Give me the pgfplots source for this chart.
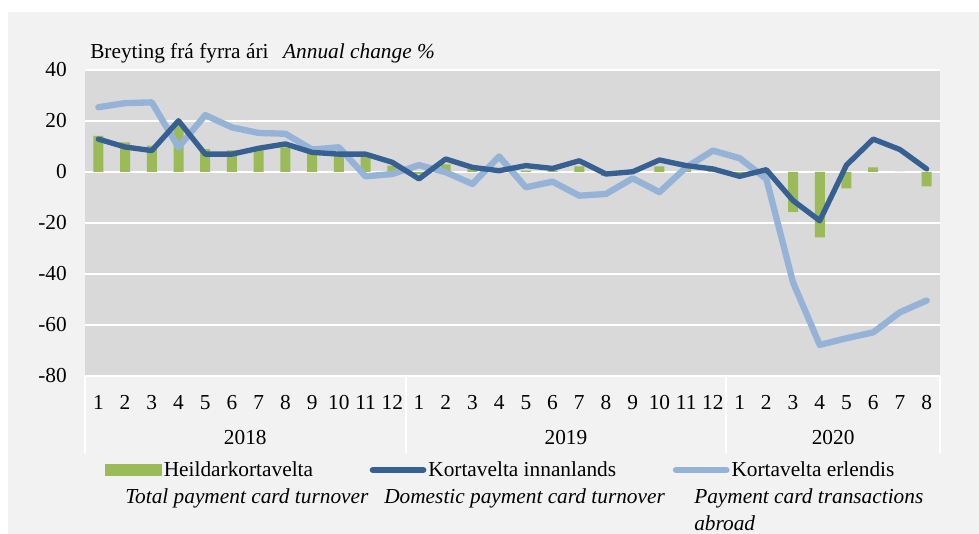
\documentclass[border=0pt]{standalone}
\usepackage{fontspec}
\setmainfont{Liberation Serif}
\usepackage{pgfplots}
\pgfplotsset{compat=1.18}
\definecolor{bgout}{HTML}{F2F2F2}
\definecolor{bgplot}{HTML}{D9D9D9}
\definecolor{barcol}{HTML}{9BBB59}
\definecolor{darkline}{HTML}{376092}
\definecolor{lightline}{HTML}{95B3D7}
\newcommand{\chartfont}{\fontsize{16}{19}\selectfont}

\begin{document}
\begin{tikzpicture}[font=\chartfont]
\useasboundingbox (-63.75pt,-118.5pt) rectangle (670.5pt,282pt);
\fill[white] (-63.75pt,-118.5pt) rectangle (670.5pt,282pt);
\fill[bgout] (-57.75pt,-118.5pt) rectangle (670.5pt,273pt);
\begin{axis}[
  at={(0,0)}, anchor=south west,
  scale only axis, width=641.25pt, height=229.5pt,
  xmin=0.5, xmax=32.5, ymin=-80, ymax=40,
  axis background/.style={fill=bgplot},
  axis line style={draw=none},
  ytick={-80,-60,...,40},
  yticklabels={-80,-60,-40,-20,0,20,40},
  xtick={1,...,32},
  xticklabels={1,2,3,4,5,6,7,8,9,10,11,12,1,2,3,4,5,6,7,8,9,10,11,12,1,2,3,4,5,6,7,8},
  major tick length=0pt,
  ymajorgrids, grid style={white, line width=1.5pt},
  tick label style={font=\chartfont, inner sep=0pt},
  yticklabel style={anchor=east, xshift=-13.5pt},
  xticklabel style={anchor=base, yshift=-25.5pt},
  clip=false,
  legend columns=3,
  legend style={at={(axis description cs:0,0)}, anchor=west,
    xshift=15pt, yshift=-70.5pt, draw=none, fill=none, inner sep=0pt,
    nodes={inner sep=1.5pt, font=\chartfont},
    /tikz/every even column/.append style={column sep=41pt}},
]
% month index 1..32 = Jan 2018 .. Aug 2020
\addplot[ybar, bar width=7.5pt, fill=barcol, draw=none, forget plot] coordinates {
 (1,14.2) (2,11.6) (3,10.3) (4,18.8) (5,9) (6,8.5) (7,9) (8,9.7) (9,8.4) (10,7) (11,6.4) (12,2.5)
 (13,-0.7) (14,3) (15,1) (16,0.5) (17,0.5) (18,0.5) (19,2.2) (20,-1.5) (21,0.3) (22,2.2) (23,1) (24,1.5)
 (25,-0.5) (26,-1) (27,-15.6) (28,-25.6) (29,-6.4) (30,1.8) (31,0) (32,-5.6)
};
\addplot[lightline, line width=4.75pt, line join=round, line cap=round, forget plot] coordinates {
 (1,25.4) (2,27) (3,27.3) (4,9.7) (5,22.3) (6,17.5) (7,15.3) (8,15) (9,8.8) (10,9.7) (11,-1.7) (12,-0.8)
 (13,2.7) (14,-0.1) (15,-4.7) (16,6.1) (17,-6) (18,-3.8) (19,-9.3) (20,-8.6) (21,-2.5) (22,-7.9) (23,1.8) (24,8.4)
 (25,5.4) (26,-2.7) (27,-43.3) (28,-67.8) (29,-65.2) (30,-62.9) (31,-55) (32,-50.4)
};
\addplot[darkline, line width=4pt, line join=round, line cap=round, forget plot] coordinates {
 (1,12.9) (2,9.8) (3,8.4) (4,20.1) (5,7) (6,7) (7,9.3) (8,11) (9,7.7) (10,7) (11,7) (12,3.8)
 (13,-2.7) (14,5.1) (15,1.8) (16,0.5) (17,2.5) (18,1.4) (19,4.4) (20,-0.8) (21,0.1) (22,4.7) (23,2.5) (24,1.2)
 (25,-1.7) (26,0.9) (27,-11.2) (28,-19.1) (29,2.7) (30,12.9) (31,8.8) (32,1.2)
};
\addlegendimage{legend image code/.code={\fill[barcol] (0pt,-4pt) rectangle (42pt,4pt);}}
\addlegendentry{Heildarkortavelta}
\addlegendimage{legend image code/.code={\draw[darkline, line width=4.5pt, line cap=round] (2pt,0pt) -- (40pt,0pt);}}
\addlegendentry{Kortavelta innanlands}
\addlegendimage{legend image code/.code={\draw[lightline, line width=4.5pt, line cap=round] (2pt,0pt) -- (40pt,0pt);}}
\addlegendentry{Kortavelta erlendis}

\draw[white, line width=1.5pt] (axis cs:0.5,-80) -- ([yshift=-57.75pt]axis cs:0.5,-80);
\draw[white, line width=1.5pt] (axis cs:12.5,-80) -- ([yshift=-57.75pt]axis cs:12.5,-80);
\draw[white, line width=1.5pt] (axis cs:24.5,-80) -- ([yshift=-57.75pt]axis cs:24.5,-80);
\draw[white, line width=1.5pt] (axis cs:32.5,-80) -- ([yshift=-57.75pt]axis cs:32.5,-80);
\node[anchor=base, inner sep=0pt, yshift=-51.75pt] at (axis cs:6.5,-80) {2018};
\node[anchor=base, inner sep=0pt, yshift=-51.75pt] at (axis cs:18.5,-80) {2019};
\node[anchor=base, inner sep=0pt, yshift=-51.75pt] at (axis cs:28.5,-80) {2020};
\end{axis}
\node[anchor=base west, inner sep=0pt] at (3.75pt,237.75pt)
  {Breyting frá fyrra ári\hspace{11pt}\textit{Annual change \%}};
\node[anchor=base west, inner sep=0pt, font=\chartfont\itshape] at (30pt,-96pt)
  {Total payment card turnover};
\node[anchor=base west, inner sep=0pt, font=\chartfont\itshape] at (224.25pt,-96pt)
  {Domestic payment card turnover};
\node[anchor=base west, inner sep=0pt, font=\chartfont\itshape] at (456.75pt,-96pt)
  {Payment card transactions};
\node[anchor=base west, inner sep=0pt, font=\chartfont\itshape] at (456.75pt,-116.25pt)
  {abroad};
\end{tikzpicture}
\end{document}
